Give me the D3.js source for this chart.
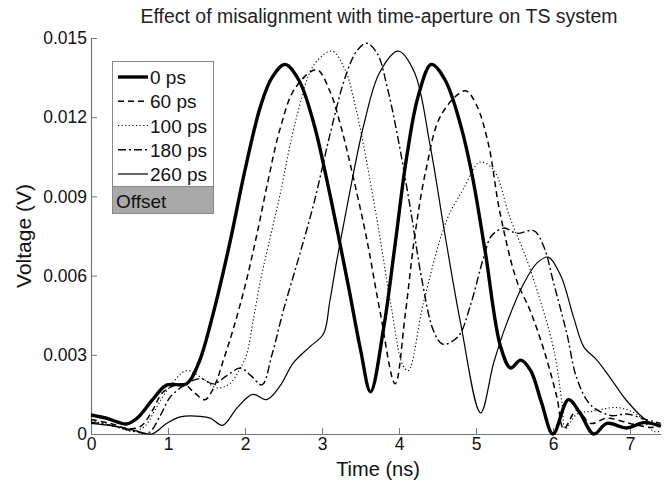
<!DOCTYPE html>
<html>
<head>
<meta charset="utf-8">
<script src="https://cdn.jsdelivr.net/npm/d3@7"></script>
<style>
  body { margin: 0; background: #fff; }
  svg { font-family: "Liberation Sans", Arial, sans-serif; }
</style>
</head>
<body>
<div id="chart"></div>
<script>
// values (time in ns, voltage in V)
const ps0 = [[0,0.00072],[0.2,0.0006],[0.46,0.00038],[0.6,0.0006],[0.8,0.0013],[0.98,0.00185],[1.24,0.0019],[1.4,0.0027],[1.59,0.0046],[1.8,0.0072],[2.0,0.0100],[2.2,0.0124],[2.35,0.0135],[2.52,0.0140],[2.7,0.0134],[2.89,0.0118],[3.05,0.0098],[3.2,0.0077],[3.35,0.0055],[3.5,0.0032],[3.63,0.0016],[3.8,0.0040],[3.95,0.0072],[4.1,0.0105],[4.25,0.0128],[4.42,0.0140],[4.6,0.0134],[4.8,0.0117],[4.95,0.0098],[5.12,0.0069],[5.32,0.0033],[5.45,0.0025],[5.58,0.0028],[5.71,0.0024],[5.85,0.0012],[6.0,0.0],[6.2,0.0013],[6.35,0.0008],[6.53,0.0],[6.7,0.0004],[6.96,0.00023],[7.18,0.00043],[7.4,0.0003]];
const ps60 = [[0,0.00055],[0.25,0.0004],[0.5,0.0002],[0.65,0.0003],[0.8,0.0009],[0.94,0.0016],[1.2,0.0019],[1.33,0.0016],[1.48,0.0013],[1.6,0.0018],[1.72,0.0028],[1.85,0.0040],[2.0,0.0056],[2.15,0.0075],[2.3,0.0096],[2.45,0.0115],[2.65,0.0131],[2.93,0.0138],[3.1,0.0130],[3.25,0.0116],[3.4,0.0098],[3.58,0.0074],[3.75,0.0047],[3.95,0.0019],[4.08,0.0045],[4.2,0.0074],[4.35,0.0100],[4.55,0.0121],[4.86,0.0130],[5.0,0.0125],[5.16,0.0110],[5.31,0.0084],[5.53,0.0058],[5.7,0.0047],[5.88,0.0032],[6.05,0.0014],[6.14,0.0002],[6.31,0.0009],[6.49,0.0004],[6.7,0.0006],[7.0,0.0004],[7.27,0.00025],[7.4,0.0003]];
const ps100 = [[0,0.0005],[0.3,0.0003],[0.55,0.0001],[0.7,0.0003],[0.85,0.0010],[1.0,0.0017],[1.24,0.0024],[1.45,0.0021],[1.63,0.00175],[1.8,0.0019],[1.94,0.0025],[2.02,0.0030],[2.1,0.0042],[2.2,0.0058],[2.3,0.0071],[2.45,0.0090],[2.67,0.0120],[2.9,0.0140],[3.13,0.0145],[3.3,0.0138],[3.45,0.0122],[3.6,0.0100],[3.75,0.0075],[3.9,0.0048],[4.05,0.0026],[4.12,0.0024],[4.32,0.0050],[4.62,0.0081],[4.84,0.0093],[5.05,0.0103],[5.23,0.0100],[5.44,0.0082],[5.66,0.0066],[5.83,0.0051],[6.01,0.0032],[6.12,0.0011],[6.16,0.0002],[6.31,0.00075],[6.53,0.00087],[6.83,0.0010],[7.09,0.00075],[7.31,0.0001],[7.4,0.0001]];
const ps180 = [[0,0.00045],[0.3,0.0003],[0.55,0.0001],[0.75,0.00005],[0.9,0.0007],[1.03,0.0014],[1.24,0.0019],[1.42,0.0021],[1.59,0.0019],[1.76,0.0022],[1.94,0.0025],[2.08,0.0022],[2.22,0.00186],[2.35,0.0030],[2.5,0.0047],[2.7,0.0067],[2.9,0.0088],[3.1,0.0113],[3.3,0.0135],[3.45,0.0145],[3.58,0.0148],[3.72,0.0144],[3.85,0.0131],[4.0,0.0110],[4.15,0.0085],[4.3,0.0058],[4.45,0.0039],[4.57,0.0034],[4.77,0.0037],[4.92,0.0048],[5.1,0.0067],[5.2,0.0075],[5.36,0.0078],[5.53,0.0076],[5.75,0.0077],[5.88,0.0071],[6.01,0.0057],[6.18,0.0038],[6.31,0.0021],[6.49,0.0011],[6.75,0.0007],[6.96,0.00076],[7.18,0.00057],[7.4,0.0004]];
const ps260 = [[0,0.0004],[0.3,0.0003],[0.55,0.00015],[0.79,0.0],[0.98,0.0004],[1.16,0.00065],[1.42,0.00067],[1.55,0.0006],[1.71,0.00033],[1.9,0.0010],[2.1,0.0015],[2.28,0.0013],[2.45,0.0018],[2.63,0.0027],[2.84,0.0033],[3.02,0.0038],[3.1,0.0050],[3.2,0.0067],[3.35,0.0090],[3.55,0.0118],[3.75,0.0137],[3.99,0.0145],[4.2,0.0137],[4.4,0.0110],[4.6,0.0075],[4.8,0.0042],[5.06,0.0008],[5.23,0.0027],[5.4,0.0042],[5.62,0.0057],[5.8,0.0065],[5.94,0.0067],[6.1,0.0060],[6.27,0.0044],[6.4,0.0033],[6.57,0.0028],[6.75,0.0021],[6.96,0.00125],[7.22,0.0005],[7.4,0.0003]];

const seriesNames = ["0 ps", "60 ps", "100 ps", "180 ps", "260 ps"];
const xTicks = [0, 1, 2, 3, 4, 5, 6, 7];
const yTicks = [0, 0.003, 0.006, 0.009, 0.012, 0.015];

const width = 671, height = 480;
const margin = { top: 38, right: 10, bottom: 46, left: 91 };

// line look for each series
const styles = [
    { w: 3.4, dash: null },
    { w: 1.5, dash: "6,4" },
    { w: 1.1, dash: "1.2,2.4" },
    { w: 1.4, dash: "8,3,2,3" },
    { w: 1.2, dash: null }
];

const allSeries = [ps0, ps60, ps100, ps180, ps260];

const svg = d3.select("#chart")
    .append("svg")
    .attr("width", width)
    .attr("height", height);

const x = d3.scaleLinear().domain([0, 7.4]).range([margin.left, margin.left + 7.4 * 77]);
const y = d3.scaleLinear().domain([0, 0.015]).range([434, 38]);

// axes (ticks inside, like matlab)
const xAxis = svg.append("g")
    .attr("transform", `translate(0,${y(0)})`)
    .call(d3.axisBottom(x).tickValues(xTicks).tickSizeInner(-6).tickSizeOuter(0).tickPadding(4).tickFormat(d3.format("d")));
const yAxis = svg.append("g")
    .attr("transform", `translate(${x(0)},0)`)
    .call(d3.axisLeft(y).tickValues(yTicks).tickSizeInner(-6).tickSizeOuter(0).tickPadding(4)
        .tickFormat(d => d === 0 ? "0" : d3.format(".3f")(d)));

[xAxis, yAxis].forEach(a => {
    a.select(".domain").attr("stroke", "#777").attr("stroke-width", 1.2);
    a.selectAll(".tick line").attr("stroke", "#777");
    a.selectAll("text").attr("fill", "#111").style("font-size", "17.5px");
});

const line = d3.line()
    .x(d => x(d[0]))
    .y(d => y(d[1]))
    .curve(d3.curveCatmullRom.alpha(0.5));

svg.append("g")
    .selectAll("path")
    .data(allSeries)
    .enter()
    .append("path")
    .attr("d", line)
    .attr("fill", "none")
    .attr("stroke", "#000")
    .attr("stroke-width", (d, i) => styles[i].w)
    .attr("stroke-dasharray", (d, i) => styles[i].dash)
    .attr("stroke-linejoin", "round");

// title and labels
svg.append("text")
    .attr("x", 379).attr("y", 23)
    .attr("text-anchor", "middle")
    .style("font-size", "19.5px")
    .attr("fill", "#222")
    .text("Effect of misalignment with time-aperture on TS system");

svg.append("text")
    .attr("x", 378).attr("y", 476)
    .attr("text-anchor", "middle")
    .style("font-size", "20px")
    .attr("fill", "#111")
    .text("Time (ns)");

svg.append("text")
    .attr("transform", "translate(31,236) rotate(-90)")
    .attr("text-anchor", "middle")
    .style("font-size", "21px")
    .attr("fill", "#111")
    .text("Voltage (V)");

// legend
const legend = svg.append("g");
legend.append("rect")
    .attr("x", 112.5).attr("y", 61.5)
    .attr("width", 101).attr("height", 152)
    .attr("fill", "#fff").attr("stroke", "#888");
legend.append("rect")
    .attr("x", 112.5).attr("y", 186.5)
    .attr("width", 101).attr("height", 27)
    .attr("fill", "#a9a9a9").attr("stroke", "#888");

const rowY = d3.scaleLinear().domain([0, 4]).range([77, 174]);
seriesNames.forEach((name, i) => {
    legend.append("line")
        .attr("x1", 118).attr("x2", 148)
        .attr("y1", rowY(i)).attr("y2", rowY(i))
        .attr("stroke", "#000")
        .attr("stroke-width", styles[i].w)
        .attr("stroke-dasharray", styles[i].dash);
    legend.append("text")
        .attr("x", 150).attr("y", rowY(i) + 7)
        .style("font-size", "19px")
        .attr("fill", "#111")
        .text(name);
});
legend.append("text")
    .attr("x", 116).attr("y", 208)
    .style("font-size", "19px")
    .attr("fill", "#111")
    .text("Offset");
</script>
</body>
</html>
